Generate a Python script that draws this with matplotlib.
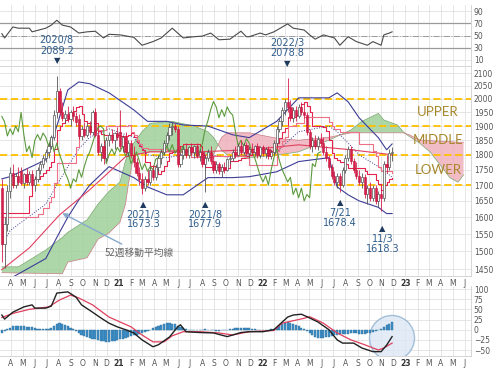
import matplotlib
matplotlib.use("Agg")

import matplotlib.pyplot as plt
import matplotlib.dates as mdates
from matplotlib.patches import Ellipse
import numpy as np
import pandas as pd

plt.rcParams["font.family"] = ["DejaVu Sans", "Noto Sans CJK JP"]

# =========================================================
# DATA  (weekly bars, index 0 = 2020-03-09)
# =========================================================

weeks = pd.date_range("2020-03-09", periods=169, freq="7D")

opens = [1690, 1520, 1580, 1680, 1740, 1700, 1730, 1745, 1705, 1735,
         1710, 1735, 1700, 1720, 1750, 1770, 1790, 1810, 1830, 1860,
         1950, 2030, 1950, 1930, 1945, 1925, 1950, 1935, 1925, 1865,
         1890, 1870, 1900, 1880, 1950, 1870, 1810, 1830, 1790, 1850,
         1870, 1850, 1875, 1880, 1830, 1860, 1810, 1840, 1800, 1775,
         1740, 1720, 1690, 1720, 1710, 1750, 1725, 1760, 1790, 1810,
         1840, 1870, 1895, 1900, 1890, 1770, 1800, 1820, 1800, 1825,
         1810, 1830, 1795, 1810, 1770, 1790, 1810, 1780, 1750, 1770,
         1745, 1760, 1750, 1785, 1790, 1810, 1800, 1830, 1810, 1835,
         1805, 1820, 1810, 1830, 1800, 1825, 1805, 1820, 1795, 1810,
         1840, 1890, 1920, 1960, 1990, 1970, 1930, 1960, 1935, 1970,
         1950, 1940, 1880, 1830, 1850, 1830, 1855, 1840, 1810, 1790,
         1760, 1730, 1710, 1730, 1700, 1750, 1790, 1820, 1780, 1750,
         1730, 1710, 1725, 1670, 1690, 1660, 1690, 1650, 1670, 1660,
         1770, 1760, 1805]
highs = [1720, 1600, 1700, 1760, 1770, 1740, 1760, 1760, 1740, 1755,
         1745, 1750, 1730, 1760, 1780, 1800, 1820, 1840, 1870, 1960,
         2089, 2040, 1990, 1960, 1975, 1960, 1975, 1950, 1945, 1900,
         1915, 1910, 1920, 1960, 1965, 1885, 1840, 1850, 1860, 1880,
         1890, 1880, 1895, 1960, 1870, 1880, 1850, 1850, 1830, 1790,
         1760, 1740, 1730, 1750, 1760, 1765, 1770, 1800, 1820, 1850,
         1880, 1910, 1915, 1912, 1900, 1810, 1830, 1840, 1830, 1840,
         1835, 1840, 1820, 1815, 1800, 1820, 1830, 1800, 1780, 1775,
         1770, 1775, 1790, 1800, 1820, 1830, 1840, 1850, 1840, 1845,
         1830, 1840, 1835, 1840, 1830, 1835, 1825, 1830, 1815, 1850,
         1900, 1930, 1970, 2000, 2079, 1995, 1970, 1975, 1980, 1990,
         1985, 1950, 1890, 1860, 1870, 1865, 1875, 1860, 1830, 1800,
         1770, 1745, 1740, 1740, 1760, 1800, 1830, 1830, 1790, 1775,
         1750, 1740, 1735, 1700, 1710, 1700, 1700, 1680, 1690, 1780,
         1800, 1820, 1825]
lows = [1470, 1455, 1560, 1660, 1690, 1690, 1700, 1700, 1690, 1700,
        1700, 1690, 1680, 1710, 1735, 1755, 1775, 1790, 1820, 1850,
        1930, 1940, 1920, 1910, 1915, 1900, 1920, 1900, 1855, 1850,
        1860, 1860, 1870, 1870, 1860, 1800, 1780, 1770, 1780, 1830,
        1840, 1820, 1850, 1820, 1810, 1800, 1795, 1790, 1760, 1730,
        1700, 1673, 1680, 1700, 1700, 1715, 1715, 1745, 1770, 1800,
        1830, 1850, 1870, 1880, 1760, 1760, 1785, 1790, 1790, 1800,
        1790, 1790, 1780, 1760, 1678, 1780, 1770, 1740, 1740, 1735,
        1725, 1740, 1745, 1770, 1780, 1790, 1795, 1800, 1800, 1795,
        1790, 1800, 1795, 1790, 1790, 1795, 1790, 1785, 1785, 1800,
        1830, 1880, 1900, 1940, 1950, 1920, 1915, 1920, 1930, 1940,
        1930, 1870, 1820, 1810, 1820, 1815, 1830, 1800, 1780, 1750,
        1720, 1700, 1690, 1678, 1695, 1740, 1780, 1770, 1740, 1720,
        1700, 1690, 1660, 1640, 1650, 1650, 1640, 1630, 1618, 1650,
        1740, 1750, 1780]
closes = [1520, 1580, 1680, 1740, 1700, 1730, 1710, 1705, 1735, 1710,
          1735, 1700, 1720, 1750, 1770, 1790, 1810, 1830, 1860, 1940,
          2030, 1950, 1930, 1945, 1925, 1950, 1935, 1915, 1865, 1890,
          1870, 1900, 1880, 1950, 1870, 1810, 1830, 1790, 1850, 1870,
          1850, 1875, 1860, 1830, 1860, 1810, 1840, 1800, 1775, 1740,
          1720, 1690, 1720, 1710, 1750, 1725, 1760, 1790, 1810, 1840,
          1870, 1895, 1900, 1890, 1770, 1800, 1820, 1800, 1825, 1810,
          1830, 1795, 1810, 1770, 1790, 1810, 1780, 1750, 1770, 1745,
          1760, 1750, 1785, 1790, 1810, 1800, 1830, 1810, 1835, 1805,
          1820, 1810, 1830, 1800, 1825, 1805, 1820, 1795, 1810, 1840,
          1890, 1920, 1960, 1990, 1970, 1930, 1960, 1935, 1970, 1950,
          1940, 1880, 1830, 1850, 1830, 1855, 1840, 1810, 1790, 1760,
          1730, 1710, 1730, 1700, 1750, 1790, 1820, 1780, 1750, 1730,
          1710, 1725, 1670, 1690, 1660, 1690, 1650, 1670, 1660, 1770,
          1760, 1805, 1810]

# Bollinger bands (26w) read at sample weeks
bb_weeks = [0, 3, 16, 20, 24, 28, 32, 39, 48, 53, 60, 66, 75, 84, 90, 100,
            108, 119, 122, 126, 130, 137, 140, 142]
bb_upper = [1720, 1727, 1783, 1900, 2034, 2065, 2058, 2023, 1959, 1917,
            1917, 1904, 1900, 1869, 1859, 1917, 2004, 2004, 2023, 1989,
            1930, 1859, 1817, 1837]
bb_lower = [1420, 1425, 1480, 1540, 1600, 1653, 1700, 1760, 1724, 1694,
            1669, 1669, 1724, 1724, 1727, 1743, 1777, 1790, 1694, 1669,
            1650, 1630, 1611, 1611]
bb_mid = [1518, 1560, 1640, 1700, 1760, 1820, 1860, 1890, 1860, 1800,
          1790, 1800, 1800, 1790, 1800, 1810, 1880, 1900, 1880, 1840,
          1800, 1760, 1740, 1725]

ma52_weeks = [0, 10, 21, 32, 45, 54, 72, 90, 108, 127, 142]
ma52 = [1449, 1510, 1607, 1685, 1793, 1810, 1810, 1817, 1834, 1817, 1800]

# Ichimoku conversion (9w) and base (26w) lines, step values
tenkan_weeks = [0, 10, 11, 12, 13, 14, 15, 16, 17, 18, 19, 20, 21, 22, 23,
                24, 25, 26, 27, 28, 29, 30, 31, 35, 36, 37, 43, 46, 47, 48,
                49, 50, 51, 52, 54, 56, 57, 58, 59, 60, 61, 62, 63, 65, 66,
                71, 72, 73, 74, 80, 83, 86, 87, 89, 90, 91, 92, 93, 96, 97,
                98, 99, 100, 101, 102, 103, 104, 107, 108, 109, 110, 111,
                112, 113, 114, 117, 118, 119, 120, 121, 122, 123, 125, 126,
                132, 133, 136, 137, 138, 139, 140, 141, 142]
tenkan = [1612, 1665, 1715, 1725, 1720, 1730, 1740, 1750, 1760, 1775, 1820,
          1885, 1900, 1912, 1922, 1932, 1940, 1955, 1970, 1972, 1945, 1920,
          1912, 1882, 1872, 1868, 1865, 1870, 1875, 1860, 1845, 1830, 1816,
          1777, 1762, 1752, 1737, 1747, 1762, 1780, 1805, 1808, 1815, 1830,
          1838, 1836, 1830, 1800, 1759, 1754, 1778, 1782, 1788, 1795, 1798,
          1810, 1815, 1820, 1818, 1815, 1812, 1818, 1842, 1858, 1878, 1892,
          1932, 1940, 1955, 1980, 1990, 1975, 1950, 1902, 1900, 1895, 1882,
          1850, 1805, 1788, 1782, 1776, 1769, 1754, 1745, 1735, 1715, 1702,
          1684, 1699, 1709, 1719, 1722]
kijun_weeks = [0, 13, 15, 17, 18, 19, 20, 27, 28, 29, 38, 46, 47, 48, 49, 50,
               51, 53, 60, 69, 77, 89, 90, 100, 101, 102, 103, 104, 107, 110,
               119, 120, 121, 123, 130, 135, 136, 137, 138, 142]
kijun = [1600, 1610, 1628, 1648, 1662, 1707, 1772, 1825, 1875, 1885, 1900,
         1905, 1880, 1868, 1852, 1837, 1824, 1819, 1816, 1794, 1797, 1789,
         1764, 1812, 1828, 1848, 1863, 1902, 1910, 1932, 1915, 1900, 1890,
         1879, 1836, 1812, 1795, 1760, 1746, 1739]

# Ichimoku cloud (leading spans, shifted 26w ahead)
cloud_weeks = [0, 6, 16, 22, 24, 31, 35, 39, 43, 45, 46, 48, 51, 54, 62, 70,
               75, 77, 80, 82, 90, 101, 108, 119, 127, 131, 137, 139, 144,
               146, 148, 152, 156, 163, 166, 168]
span_a = [1457, 1457, 1504, 1540, 1555, 1592, 1640, 1680, 1710, 1780, 1805,
          1840, 1880, 1910, 1917, 1900, 1880, 1860, 1815, 1800, 1790, 1800,
          1810, 1850, 1886, 1917, 1946, 1922, 1904, 1880, 1865, 1840, 1808,
          1724, 1709, 1733]
span_b = [1441, 1440, 1439, 1438, 1470, 1482, 1535, 1553, 1585, 1640, 1700,
          1800, 1805, 1810, 1810, 1805, 1800, 1800, 1860, 1876, 1876, 1855,
          1850, 1860, 1876, 1876, 1876, 1876, 1876, 1876, 1870, 1851, 1848,
          1845, 1843, 1843]

level_lines = [2000, 1900, 1800, 1700]
level_names = ["UPPER", "MIDDLE", "LOWER"]
level_text_y = [1950, 1850, 1750]

rsi_weeks = [0, 1, 4, 6, 10, 11, 16, 18, 20, 22, 25, 28, 31, 34, 37, 39, 43,
             48, 51, 55, 58, 62, 66, 70, 73, 76, 79, 83, 87, 89, 90, 94, 96,
             99, 104, 106, 110, 112, 114, 117, 121, 123, 126, 129, 133, 135,
             138, 139, 141, 142]
rsi = [53, 46, 64, 62, 62, 56, 62, 67, 75, 67, 64, 54, 56, 57, 46, 52, 51,
       47, 34, 40, 46, 62, 46, 48, 49, 54, 43, 44, 57, 48, 48, 54, 51, 56,
       69, 62, 59, 51, 44, 51, 46, 34, 48, 40, 34, 40, 34, 51, 54, 56]

macd_weeks = [0, 1, 4, 8, 11, 12, 16, 18, 20, 24, 27, 29, 33, 36, 39, 42, 45,
              48, 51, 55, 57, 61, 64, 65, 67, 72, 77, 82, 87, 90, 95, 99, 104,
              106, 109, 111, 115, 119, 122, 124, 128, 131, 135, 138, 140, 142]
macd = [36, 26, 43, 56, 61, 53, 53, 58, 90, 93, 80, 61, 43, 29, 16, 7, 0,
        -8, -25, -42, -37, -18, 7, 12, -5, -7, -8, -17, -7, -5, -5, 0, 31,
        36, 38, 32, 19, 0, -25, -33, -33, -45, -54, -54, -38, -17]
sig_weeks = [0, 4, 10, 17, 21, 25, 28, 33, 39, 47, 51, 55, 59, 62, 66, 72, 79,
             84, 90, 99, 102, 110, 112, 117, 122, 127, 132, 137, 139, 142]
signal = [30, 40, 50, 56, 73, 85, 78, 61, 31, 7, -13, -30, -30, -15, -5, -5,
          -8, -13, -5, -2, 16, 28, 32, 16, -8, -25, -37, -50, -45, -33]
hist = [-8, -3, 2, 5,
        8, 9, 9, 8, 8, 7, 7, 6,
        3, 2, 1, 1, 1, 2, 3,
        8, 14, 17, 15, 12, 8, 4, 1, -3,
        -8, -12, -15, -18, -20, -22, -24, -26, -28, -29, -30, -30, -29, -28,
        -26, -24, -22, -20,
        -18, -16, -14, -12, -10, -8, -6, -3, 0, 3,
        6, 9, 12, 14, 16, 16, 15, 13, 10, 6,
        3, 1, 0, -1, -2, -2, -1, 0, 1, 0, -1, -2, -3, -3, -2, -1, 0, 1, 2, 3,
        4,
        5, 5, 4, 3, 2, 1, 0, 0, -1, -1, 0, 1, 2,
        5, 9, 13, 16, 18, 17, 15, 12, 9, 5, 1,
        -4, -9, -14, -18, -20, -21, -20, -19, -17, -15,
        -13, -12, -11, -10, -10, -10, -9, -9, -9, -10, -10, -10, -9, -8, -6,
        -4, -2,
        2, 7, 11, 15, 18]

# =========================================================
# FIGURE / AXES (positions in pixels of a 500x368 canvas)
# =========================================================

W, H = 500, 368
fig = plt.figure(figsize=(5.0, 3.68), dpi=100)


def box(l, t, r, b):
    return [l / W, 1 - b / H, (r - l) / W, (b - t) / H]


ax_rsi = fig.add_axes(box(0, 5, 471, 66))
ax = fig.add_axes(box(0, 66, 471, 276))
ax_macd = fig.add_axes(box(0, 286, 471, 356))
ax.set_zorder(3)
ax.patch.set_alpha(0)

GRID = "#dcdcdc"
TICK = "#555555"
xlim = (pd.Timestamp("2020-03-04 07:00"), pd.Timestamp("2023-06-17"))

for a in (ax_rsi, ax, ax_macd):
    a.set_xlim(xlim)
    a.xaxis.set_major_locator(mdates.MonthLocator())
    a.grid(True, color=GRID, lw=0.5)
    a.set_axisbelow(True)
    a.yaxis.tick_right()
    a.tick_params(axis="both", length=0, labelsize=5.5, labelcolor=TICK, pad=2)
    for s in a.spines.values():
        s.set_color("#cfcfcf")
        s.set_linewidth(0.6)
    a.spines["left"].set_visible(False)
    a.spines["top"].set_visible(False)


def month_labels(a):
    locs = a.get_xticks()
    labels = []
    for v in locs:
        d = mdates.num2date(v)
        labels.append(d.strftime("%y") if d.month == 1 else d.strftime("%b")[0])
    a.set_xticks(locs)
    a.set_xticklabels(labels)
    for t, v in zip(a.get_xticklabels(), locs):
        if mdates.num2date(v).month == 1:
            t.set_fontweight("bold")
            t.set_color("#333333")


# =========================================================
# RSI PANEL
# =========================================================

ax_rsi.set_ylim(0, 100)
ax_rsi.set_yticks([10, 30, 50, 70, 90])
ax_rsi.axhline(70, color="#9a9a9a", lw=0.9)
ax_rsi.axhline(30, color="#9a9a9a", lw=0.9)
ax_rsi.axhline(50, color="#9a9a9a", lw=0.7, linestyle="-.")
ax_rsi.plot(weeks[rsi_weeks], rsi, color="#4a4a4a", lw=0.8)
ax_rsi.set_xticklabels([])

# =========================================================
# PRICE PANEL
# =========================================================

n = len(closes)
xw = mdates.date2num(weeks[:n])
o = np.array(opens, float)
c = np.array(closes, float)
up = c >= o

ax.set_yscale("log")
ax.set_ylim(1432, 2128)
ticks = list(range(1450, 2101, 50))
ax.set_yticks(ticks)
ax.set_yticklabels([str(t) for t in ticks])
ax.yaxis.set_minor_locator(matplotlib.ticker.NullLocator())

wk = mdates.date2num(weeks)
cw = wk[cloud_weeks]
sa = np.array(span_a, float)
sb = np.array(span_b, float)
ax.fill_between(cw, sa, sb, where=sa >= sb, interpolate=True,
                color="#9fd09a", alpha=0.85, lw=0, zorder=1)
ax.fill_between(cw, sa, sb, where=sa < sb, interpolate=True,
                color="#efb1bb", alpha=0.85, lw=0, zorder=1)
ax.plot(cw, sa, color="#7aa872", lw=0.5, zorder=1.5)
ax.plot(cw, sb, color="#c97b86", lw=0.5, zorder=1.5)

for lv in level_lines:
    ax.axhline(lv, color="#ffc000", lw=1.3, dashes=(4, 2), zorder=2)

ax.plot(wk[bb_weeks], bb_upper, color="#3d3d96", lw=0.8, zorder=3)
ax.plot(wk[bb_weeks], bb_lower, color="#3d3d96", lw=0.8, zorder=3)
ax.plot(wk[bb_weeks], bb_mid, color="#3d3d96", lw=0.7, linestyle=":", zorder=3)
ax.plot(wk[ma52_weeks], ma52, color="#e0405e", lw=0.8, zorder=3)
ax.plot(wk[tenkan_weeks], tenkan, color="#e4244c", lw=0.8,
        drawstyle="steps-post", zorder=3)
ax.plot(wk[kijun_weeks], kijun, color="#ef6f86", lw=0.8,
        drawstyle="steps-post", zorder=3)

# lagging span: close drawn 26 weeks back
ax.plot(xw[:-26], closes[26:], color="#5c9a3c", lw=0.8, zorder=3)

# candles
body_lo = np.minimum(o, c)
body_h = np.maximum(np.abs(c - o), 2)
ax.vlines(xw, lows, highs, colors=np.where(up, "#555555", "#d81f4c"),
          lw=0.6, zorder=4)
ax.bar(xw[up], body_h[up], bottom=body_lo[up], width=5.6,
       facecolor="white", edgecolor="#555555", lw=0.5, zorder=5)
ax.bar(xw[~up], body_h[~up], bottom=body_lo[~up], width=5.6,
       facecolor="#d81f4c", edgecolor="#c0183f", lw=0.4, zorder=5)

for name, ty in zip(level_names, level_text_y):
    ax.text(pd.Timestamp("2023-03-25"), ty, name, fontsize=9.5,
            family=["Lato", "DejaVu Sans"], color="#a8882c",
            ha="center", va="center", zorder=6)

# peak / trough annotations
TXT = "#2f5d8c"
MRK = "#1f3a5f"
hi_marks = [(20, "2020/8", "2089.2"), (104, "2022/3", "2078.8")]
lo_marks = [(51.5, "2021/3", "1673.3"), (74, "2021/8", "1677.9"),
            (123, "7/21", "1678.4"), (138.5, "11/3", "1618.3")]
lo_marker_y = [1640, 1640, 1645, 1565]

for i, d1, d2 in hi_marks:
    xd = mdates.date2num(weeks[0]) + i * 7
    yv = highs[int(i)]
    ax.annotate("▼", xy=(xd, yv), xytext=(0, 11), textcoords="offset points",
                ha="center", va="center", fontsize=6, color=MRK,
                annotation_clip=False, zorder=7)
    ax.annotate(d2, xy=(xd, yv), xytext=(0, 18), textcoords="offset points",
                ha="center", va="center", fontsize=7, color=TXT,
                annotation_clip=False, zorder=7)
    ax.annotate(d1, xy=(xd, yv), xytext=(0, 25.5), textcoords="offset points",
                ha="center", va="center", fontsize=7, color=TXT,
                annotation_clip=False, zorder=7)

for (i, d1, d2), my in zip(lo_marks, lo_marker_y):
    xd = mdates.date2num(weeks[0]) + i * 7
    ax.annotate("▲", xy=(xd, my), ha="center", va="center", fontsize=6,
                color=MRK, zorder=7)
    ax.annotate(d1, xy=(xd, my), xytext=(0, -7.5), textcoords="offset points",
                ha="center", va="center", fontsize=7, color=TXT, zorder=7)
    ax.annotate(d2, xy=(xd, my), xytext=(0, -14.5), textcoords="offset points",
                ha="center", va="center", fontsize=7, color=TXT, zorder=7)

ax.annotate("52週移動平均線", xy=(weeks[22], 1612), xytext=(weeks[50], 1495),
            fontsize=7, color="#666666", ha="center", va="center",
            family=["Noto Sans CJK JP"], zorder=7,
            arrowprops=dict(arrowstyle="-|>", color="#86a9cc", lw=1.0,
                            shrinkA=2, shrinkB=0, mutation_scale=7))

month_labels(ax)

# =========================================================
# MACD PANEL
# =========================================================

ax_macd.set_ylim(-64.7, 107.4)
ax_macd.set_yticks([-50, -25, 0, 25, 50, 75, 100])
ax_macd.add_patch(Ellipse((392 / W, 1 - 338 / H), 45 / W, 45 / H,
                          transform=fig.transFigure, facecolor="#dce8f4",
                          edgecolor="#8fb0cf", lw=1.0, alpha=0.8, zorder=1))
ax_macd.bar(xw, hist, width=5.5, color="#3d8fc6", edgecolor="#2f6f9c",
            lw=0.3, zorder=2)
ax_macd.plot(wk[sig_weeks], signal, color="#e0405e", lw=0.9, zorder=3)
ax_macd.plot(wk[macd_weeks], macd, color="#222222", lw=1.0, zorder=4)
month_labels(ax_macd)

plt.savefig("out.png", dpi=100)
